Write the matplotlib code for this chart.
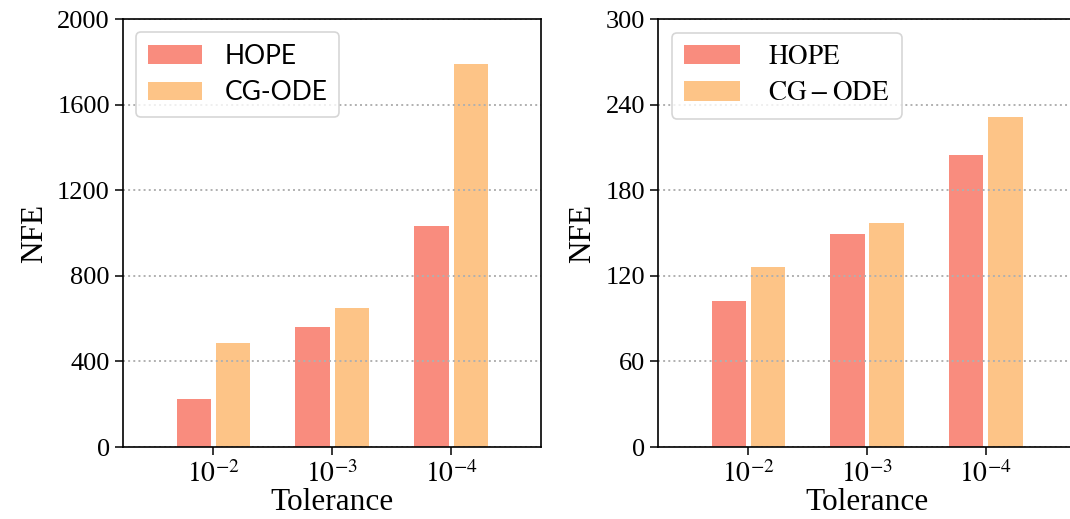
import numpy as np
import matplotlib
matplotlib.use("Agg")
import matplotlib.pyplot as plt

plt.rcParams['font.family'] = 'serif'
plt.rcParams['font.serif'] = ['Liberation Serif', 'DejaVu Serif']
plt.rcParams['mathtext.fontset'] = 'stix'

tolerances = [r'$10^{-2}$', r'$10^{-3}$', r'$10^{-4}$']
hope_left = [222, 560, 1032]
cgode_left = [485, 650, 1790]
hope_right = [102, 149, 205]
cgode_right = [126, 157, 231]

c_hope = '#f98c7e'
c_cg = '#fdc487'

fig = plt.figure(figsize=(10.7, 5.19), dpi=100)
ax1 = fig.add_axes([123 / 1070, 72 / 519, 418 / 1070, 428 / 519])
ax2 = fig.add_axes([658.3 / 1070, 72 / 519, 417 / 1070, 428 / 519])

x = np.arange(len(tolerances))
w = 0.29
off = 0.165


def draw(ax, hope, cg, ymax, yticks, labels, legend_font, textpad):
    ax.bar(x - off, hope, w, color=c_hope, label=labels[0], zorder=1)
    ax.bar(x + off, cg, w, color=c_cg, label=labels[1], zorder=1)
    ax.set_xlim(-0.76, 2.755)
    ax.set_ylim(0, ymax)
    ax.set_yticks(yticks)
    ax.set_xticks(x)
    ax.set_xticklabels(tolerances)
    ax.tick_params(labelsize=19, length=6, width=1.1)
    ax.tick_params(axis='x', labelsize=20, pad=4)
    ax.yaxis.grid(True, linestyle=':', color='#b0b0b0', linewidth=1.4)
    ax.set_axisbelow(False)
    for s in ax.spines.values():
        s.set_linewidth(1.2)
        s.set_zorder(5)
    ax.set_xlabel('Tolerance', fontsize=22.5, labelpad=0)
    ax.set_ylabel('NFE', fontsize=22.5, labelpad=6)
    leg = ax.legend(loc='upper left', prop=legend_font, handlelength=2.05,
                    handleheight=0.72, labelspacing=0.42, borderpad=0.45,
                    handletextpad=textpad, framealpha=0.8)
    leg.get_frame().set_linewidth(1.2)
    leg.set_zorder(6)


draw(ax1, hope_left, cgode_left, 2000, [0, 400, 800, 1200, 1600, 2000],
     ['HOPE', 'CG-ODE'], {'family': 'Lato', 'size': 19}, 0.85)
draw(ax2, hope_right, cgode_right, 300, [0, 60, 120, 180, 240, 300],
     [r'$\mathrm{HOPE}$', r'$\mathrm{CG-ODE}$'], {'size': 19.5}, 1.05)

fig.savefig('out.png', dpi=100)
